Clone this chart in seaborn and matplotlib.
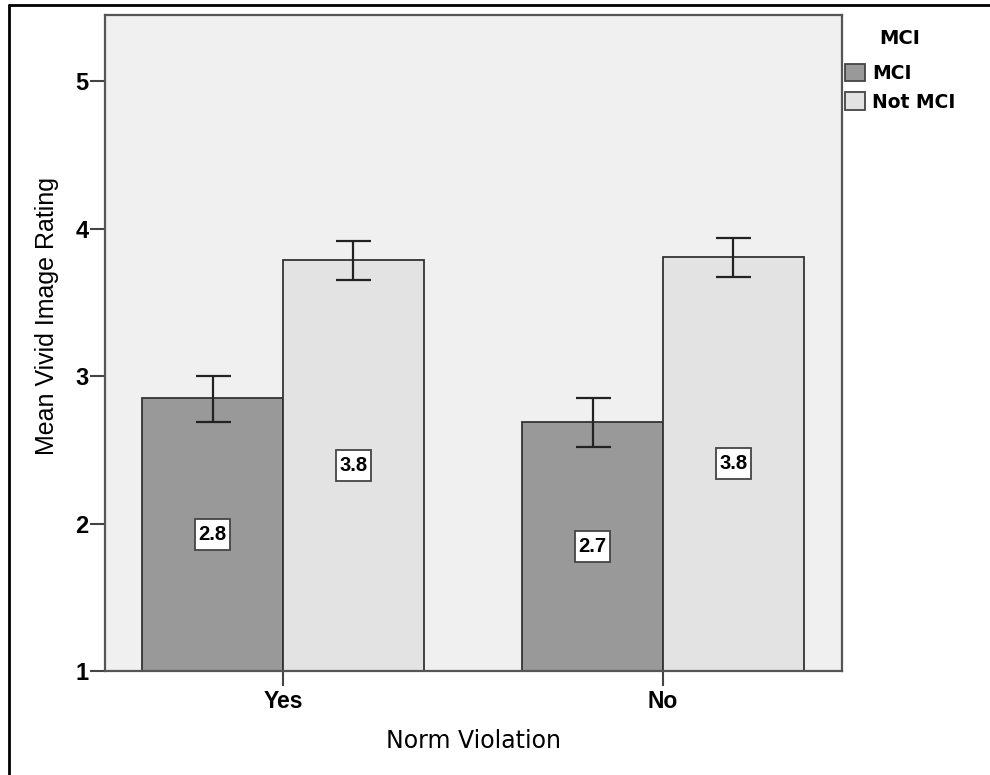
import matplotlib
matplotlib.use("Agg")
import matplotlib.pyplot as plt
import seaborn as sns
import pandas as pd
from matplotlib.patches import Patch
from matplotlib.lines import Line2D
from matplotlib.path import Path

# ---- data ----
categories = ["Yes", "No"]
groups = ["MCI", "Not MCI"]
mci_means = [2.85, 2.69]
notmci_means = [3.79, 3.81]
mci_lo = [2.69, 2.52]
mci_hi = [3.00, 2.85]
notmci_lo = [3.65, 3.67]
notmci_hi = [3.92, 3.94]
mci_labels = ["2.8", "2.7"]
notmci_labels = ["3.8", "3.8"]
yticks = [1, 2, 3, 4, 5]
colors = {"MCI": "#999999", "Not MCI": "#e3e3e3"}

df = pd.DataFrame({
    "Norm Violation": categories * 2,
    "MCI": ["MCI"] * 2 + ["Not MCI"] * 2,
    "Mean": mci_means + notmci_means,
    "lo": mci_lo + notmci_lo,
    "hi": mci_hi + notmci_hi,
    "label": mci_labels + notmci_labels,
})

sns.set_style("white")
plt.rcParams["text.color"] = "black"
plt.rcParams["axes.labelcolor"] = "black"
plt.rcParams["xtick.color"] = "black"
plt.rcParams["ytick.color"] = "black"


def label_box(x0, y0, width, height, mutation_size):
    px = 0.17 * mutation_size
    py = 0.30 * mutation_size
    x0, y0 = x0 - px, y0 - py
    x1, y1 = x0 + width + 2 * px, y0 + height + 2 * py
    return Path([(x0, y0), (x1, y0), (x1, y1), (x0, y1), (x0, y0)], closed=True)


fig = plt.figure(figsize=(9.9, 7.75), dpi=100)
fig.patch.set_facecolor("white")
ax = fig.add_axes([105 / 990, 1 - 671 / 775, 737 / 990, 656 / 775])
ax.set_facecolor("#f0f0f0")

sns.barplot(data=df, x="Norm Violation", y="Mean", hue="MCI",
            order=categories, hue_order=groups, palette=colors,
            width=0.74, errorbar=None, edgecolor="#333333", linewidth=1.3,
            legend=False, ax=ax, zorder=2)

for cont, g in zip(ax.containers, groups):
    sub = df[df["MCI"] == g].set_index("Norm Violation").loc[categories]
    xs = [b.get_x() + b.get_width() / 2 for b in cont]
    means = sub["Mean"].values
    ax.errorbar(xs, means, yerr=[means - sub["lo"].values, sub["hi"].values - means],
                fmt="none", ecolor="#222222", elinewidth=1.6, capsize=12.6,
                capthick=1.6, zorder=3)
    for x, m, lab in zip(xs, means, sub["label"].values):
        ax.text(x, (1 + m) / 2, lab, ha="center", va="center",
                fontsize=14.5, fontweight="bold", family="Liberation Sans",
                color="black", zorder=4,
                bbox=dict(boxstyle=label_box, facecolor="white",
                          edgecolor="#444444", linewidth=1.3))

ax.set_xlim(-0.468, 1.471)
ax.set_ylim(1, 5.45)
ax.set_yticks(yticks)
ax.set_yticklabels([str(t) for t in yticks])

for s in ax.spines.values():
    s.set_visible(True)
    s.set_color("#555555")
    s.set_linewidth(1.6)

ax.tick_params(axis="both", which="major", length=10.8, width=1.5,
               color="#444444", labelcolor="black", pad=1, left=True, bottom=True)
for lab in ax.get_yticklabels():
    lab.set_fontfamily("Liberation Sans")
    lab.set_fontweight("bold")
    lab.set_fontsize(17)
for lab in ax.get_xticklabels():
    lab.set_fontfamily("Liberation Sans")
    lab.set_fontweight("bold")
    lab.set_fontsize(16.5)
ax.tick_params(axis="x", pad=3)

ax.set_ylabel("Mean Vivid Image Rating", fontsize=18, family="Liberation Sans",
              va="center", color="black")
ax.yaxis.set_label_coords(-0.079, 0.541)
ax.set_xlabel("Norm Violation", fontsize=17, family="DejaVu Sans", va="center",
              color="black")
ax.xaxis.set_label_coords(0.5, -0.106)

fig.text(900 / 990, 1 - 39 / 775, "MCI", ha="center", va="center",
         fontsize=14, fontweight="bold", family="DejaVu Sans", color="black")
handles = [Patch(facecolor=colors[g], edgecolor="#444444", linewidth=1.3) for g in groups]
leg = fig.legend(handles, groups, loc="upper left",
                 bbox_to_anchor=(845 / 990, 1 - 64 / 775), frameon=False,
                 borderpad=0, borderaxespad=0, handlelength=1.05,
                 handleheight=1.05, handletextpad=0.4, labelspacing=0.5,
                 prop={"family": "DejaVu Sans", "weight": "bold", "size": 13.5})
for t in leg.get_texts():
    t.set_color("black")

# outer frame (left and top edges visible)
fig.add_artist(Line2D([9 / 990, 9 / 990], [0, 1 - 5 / 775], transform=fig.transFigure,
                      color="black", linewidth=2))
fig.add_artist(Line2D([9 / 990, 1], [1 - 5 / 775, 1 - 5 / 775], transform=fig.transFigure,
                      color="black", linewidth=2))

fig.savefig("out.png", dpi=100)
